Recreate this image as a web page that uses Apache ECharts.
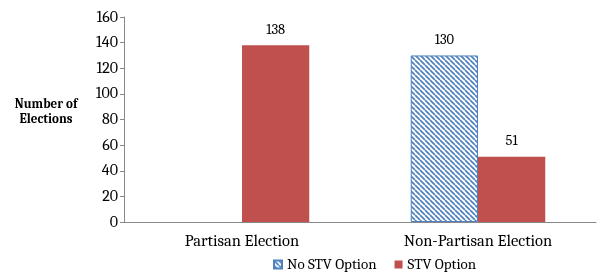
<!DOCTYPE html>
<html>
<head>
<meta charset="utf-8">
<script src="https://cdn.jsdelivr.net/npm/echarts@6/dist/echarts.min.js"></script>
<style>
  html, body { margin: 0; padding: 0; background: #fff; }
  #chart { width: 597px; height: 272px; }
</style>
</head>
<body>
<div id="chart"></div>
<script>
const categories = ['Partisan Election', 'Non-Partisan Election']
const seriesNames = ['No STV Option', 'STV Option']
const noStv = [null, 130]
const stv = [138, 51]
const yTicks = { min: 0, max: 160, interval: 20 }

const blue = '#4F81BD'
const red = '#C0504D'
const font = 'Cambria, "DejaVu Serif", "Liberation Serif", serif'

// diagonal stripe pattern for the hatched series
function stripes() {
  const c = document.createElement('canvas')
  c.width = 5; c.height = 5
  const ctx = c.getContext('2d')
  ctx.fillStyle = '#fff'
  ctx.fillRect(0, 0, 5, 5)
  ctx.strokeStyle = blue
  ctx.lineWidth = 1.7
  for (let x = -5; x <= 5; x += 5) {
    ctx.beginPath()
    ctx.moveTo(x, 0)
    ctx.lineTo(x + 5, 5)
    ctx.stroke()
  }
  return c
}
const hatch = { image: stripes(), repeat: 'repeat' }

const chart = echarts.init(document.getElementById('chart'), null, { renderer: 'canvas' })
chart.setOption({
  animation: false,
  textStyle: { fontFamily: font },
  grid: { left: 124, right: 1, top: 17, bottom: 50 },
  legend: {
    left: 268, top: 252,
    itemWidth: 8, itemHeight: 8, itemGap: 18,
    icon: 'rect',
    textStyle: { fontFamily: font, fontSize: 15, color: '#000' },
    data: seriesNames
  },
  xAxis: {
    type: 'category',
    data: categories,
    axisLine: { lineStyle: { color: '#888' } },
    axisTick: { show: false },
    axisLabel: { fontFamily: font, fontSize: 16.5, color: '#000', margin: 11 }
  },
  yAxis: {
    type: 'value',
    min: yTicks.min, max: yTicks.max, interval: yTicks.interval,
    name: 'Number of\nElections\n ',
    nameLocation: 'middle',
    nameRotate: 0,
    nameGap: 78,
    nameTextStyle: { fontFamily: font, fontSize: 13, fontWeight: 'bold', color: '#000', lineHeight: 15, align: 'center', padding: [4, 0, 0, 0] },
    splitLine: { show: false },
    axisLine: { show: true, lineStyle: { color: '#888' } },
    axisTick: { show: true, length: 4, lineStyle: { color: '#888' } },
    axisLabel: { fontFamily: font, fontSize: 16, color: '#000', margin: 6 }
  },
  series: [
    {
      name: seriesNames[0], type: 'bar', data: noStv,
      barGap: '0%', barCategoryGap: '43%',
      itemStyle: { color: hatch, borderColor: blue, borderWidth: 1 },
      label: { show: true, position: 'top', fontFamily: font, fontSize: 14.5, color: '#000', distance: 8 }
    },
    {
      name: seriesNames[1], type: 'bar', data: stv,
      itemStyle: { color: red },
      label: { show: true, position: 'top', fontFamily: font, fontSize: 14.5, color: '#000', distance: 8 }
    }
  ]
})
</script>
</body>
</html>
